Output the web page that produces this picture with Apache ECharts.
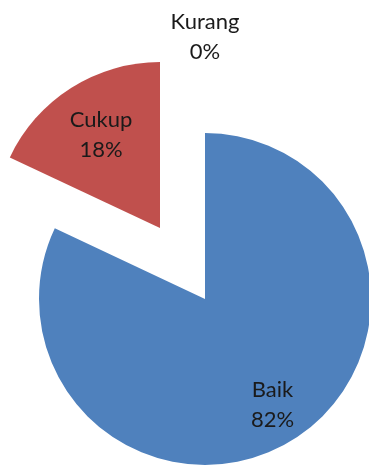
<!DOCTYPE html>
<html><head><meta charset="utf-8">
<script src="https://cdn.jsdelivr.net/npm/echarts@6/dist/echarts.min.js"></script>
<style>html,body{margin:0;padding:0;background:#fff}#c{width:369px;height:466px}</style>
</head><body><div id="c"></div>
<script>
const categories = ['Baik', 'Cukup', 'Kurang'];
const values = [82, 18, 0];
const colors = ['#4F81BD', '#C0504D', '#9BBB59'];

const CENTER = [205, 299];
const R = 166;
const OFFSET = 84;
const FONT = { fontFamily: 'Lato', fontSize: 22, color: '#1a1a1a', lineHeight: 30 };

function items(labelFor, transparent) {
  return categories.map((name, i) => ({
    name, value: values[i],
    selected: name === 'Cukup',
    itemStyle: { color: transparent ? 'rgba(0,0,0,0)' : colors[i], borderWidth: 0 },
    label: { show: name === labelFor }
  }));
}
function labelSeries(labelFor, r0, r) {
  return {
    type: 'pie', center: CENTER, radius: [r0, r], startAngle: 90, clockwise: true,
    silent: true, animation: false, selectedMode: 'single', selectedOffset: OFFSET,
    label: Object.assign({ position: 'inside', formatter: '{b}\n{d}%', align: 'center' }, FONT),
    labelLine: { show: false },
    emphasis: { disabled: true },
    data: items(labelFor, true)
  };
}

const chart = echarts.init(document.getElementById('c'), null, { renderer: 'canvas' });
chart.setOption({
  animation: false,
  series: [
    {
      type: 'pie', center: CENTER, radius: R, startAngle: 90, clockwise: true,
      silent: true, selectedMode: 'single', selectedOffset: OFFSET,
      label: { show: false }, labelLine: { show: false },
      emphasis: { disabled: true },
      data: items(null, false).map(d => Object.assign(d, { label: { show: false } }))
    },
    labelSeries('Baik', 80, R),
    labelSeries('Cukup', 48, R),
    labelSeries('Kurang', 234, 284)
  ]
});
</script></body></html>
